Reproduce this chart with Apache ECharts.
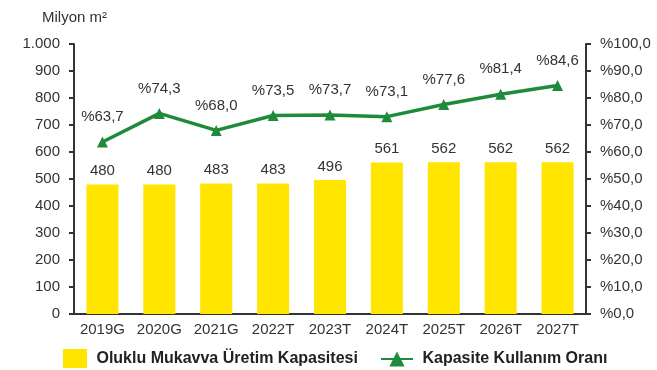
<!DOCTYPE html>
<html>
<head>
<meta charset="utf-8">
<script src="https://cdn.jsdelivr.net/npm/echarts@6/dist/echarts.min.js"></script>
<style>
  html, body { margin: 0; padding: 0; background: #fff; }
  #chart { width: 657px; height: 370px; }
</style>
</head>
<body>
<div id="chart"></div>
<script>
// Years (G = actual, T = forecast)
const categories = ['2019G', '2020G', '2021G', '2022T', '2023T', '2024T', '2025T', '2026T', '2027T'];
// Corrugated board production capacity, million m²
const capacity = [480, 480, 483, 483, 496, 561, 562, 562, 562];
// Capacity utilisation rate, %
const utilisation = [63.7, 74.3, 68.0, 73.5, 73.7, 73.1, 77.6, 81.4, 84.6];

const barName = 'Oluklu Mukavva Üretim Kapasitesi';
const lineName = 'Kapasite Kullanım Oranı';

const fmtThousands = v => String(v).replace(/\B(?=(\d{3})+(?!\d))/g, '.');
const fmtPct = v => '%' + Number(v).toFixed(1).replace('.', ',');

const font = 'Liberation Sans, Arial, sans-serif';
const axisColor = '#333';
const textColor = '#333';
const fs = 15;

const legendText = { fontSize: 16, fontWeight: 'bold', color: '#222', fontFamily: font };

const chart = echarts.init(document.getElementById('chart'));
chart.setOption({
  animation: false,
  textStyle: { fontFamily: font },
  title: {
    text: 'Milyon m²',
    left: 37, top: 5,
    textStyle: { fontSize: fs, fontWeight: 'normal', color: textColor, fontFamily: font }
  },
  legend: [
    {
      left: 63, top: 349, padding: 0,
      itemWidth: 24, itemHeight: 19,
      textStyle: legendText,
      formatter: name => ' ' + name,
      data: [{ name: barName, icon: 'rect' }]
    },
    {
      left: 380, top: 351, padding: 0,
      itemWidth: 32, itemHeight: 19,
      textStyle: legendText,
      formatter: name => ' ' + name,
      data: [{ name: lineName }]
    }
  ],
  grid: { left: 74, right: 71, top: 44, bottom: 56, containLabel: false },
  xAxis: {
    type: 'category',
    data: categories,
    axisLine: { lineStyle: { color: axisColor, width: 2 } },
    axisTick: { show: false },
    axisLabel: { fontSize: fs, color: textColor, margin: 8, interval: 0 }
  },
  yAxis: [
    {
      type: 'value', min: 0, max: 1000, interval: 100,
      axisLine: { show: true, lineStyle: { color: axisColor, width: 2 } },
      axisTick: { show: true, length: 5, lineStyle: { color: axisColor, width: 2 } },
      splitLine: { show: false },
      axisLabel: { fontSize: fs, color: textColor, margin: 14, formatter: fmtThousands }
    },
    {
      type: 'value', min: 0, max: 100, interval: 10,
      axisLine: { show: true, lineStyle: { color: axisColor, width: 2 } },
      axisTick: { show: true, length: 5, lineStyle: { color: axisColor, width: 2 } },
      splitLine: { show: false },
      axisLabel: { fontSize: fs, color: textColor, margin: 14, formatter: fmtPct }
    }
  ],
  series: [
    {
      name: barName,
      type: 'bar',
      data: capacity,
      barWidth: 32,
      itemStyle: { color: '#FFE500' },
      label: {
        show: true, position: 'top', distance: 6,
        fontSize: fs, color: textColor
      }
    },
    {
      name: lineName,
      type: 'line',
      yAxisIndex: 1,
      data: utilisation,
      symbol: 'triangle',
      symbolSize: 11,
      lineStyle: { color: '#1E8B3A', width: 3.5 },
      itemStyle: { color: '#1E8B3A' },
      label: {
        show: true, position: 'top', distance: 12,
        fontSize: fs, color: textColor,
        formatter: p => fmtPct(p.value)
      }
    }
  ]
});
</script>
</body>
</html>
